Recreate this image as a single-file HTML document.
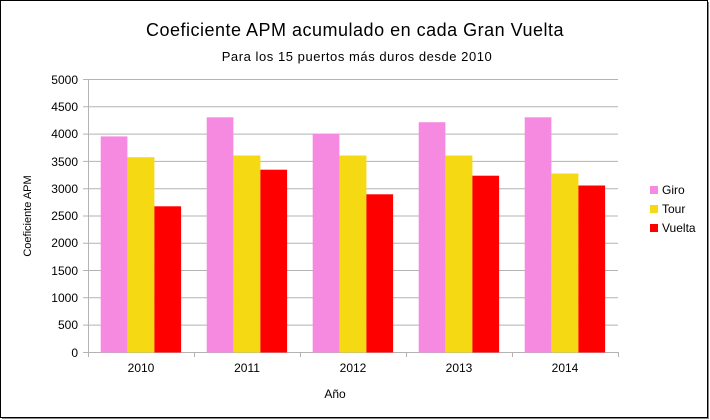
<!DOCTYPE html>
<html><head><meta charset="utf-8"><style>html,body{margin:0;padding:0;background:#fff}svg{display:block}</style></head><body>
<svg width="710" height="420" xmlns="http://www.w3.org/2000/svg" font-family="Liberation Sans, sans-serif">
<rect x="0" y="0" width="710" height="420" fill="#fff"/>
<rect x="0.5" y="0.5" width="707" height="417" fill="none" stroke="#000"/>
<line x1="708.5" y1="2" x2="708.5" y2="419" stroke="#888"/>
<line x1="2" y1="418.5" x2="709" y2="418.5" stroke="#888"/>
<text x="355" y="36" text-anchor="middle" font-size="18" letter-spacing="0.5" fill="#000">Coeficiente APM acumulado en cada Gran Vuelta</text>
<text x="357" y="61" text-anchor="middle" font-size="13" letter-spacing="0.55" fill="#000">Para los 15 puertos más duros desde 2010</text>
<g stroke="#b3b3b3" stroke-width="1">
<line x1="83" y1="79.5" x2="618" y2="79.5"/><line x1="83" y1="106.8" x2="618" y2="106.8"/>
<line x1="83" y1="134.1" x2="618" y2="134.1"/><line x1="83" y1="161.4" x2="618" y2="161.4"/>
<line x1="83" y1="188.7" x2="618" y2="188.7"/><line x1="83" y1="216" x2="618" y2="216"/>
<line x1="83" y1="243.2" x2="618" y2="243.2"/><line x1="83" y1="270.5" x2="618" y2="270.5"/>
<line x1="83" y1="297.8" x2="618" y2="297.8"/><line x1="83" y1="325.1" x2="618" y2="325.1"/>
<line x1="83" y1="352.5" x2="618" y2="352.5"/>
<line x1="88.5" y1="79" x2="88.5" y2="357"/>
<line x1="194.5" y1="352" x2="194.5" y2="357"/><line x1="300.5" y1="352" x2="300.5" y2="357"/>
<line x1="406.5" y1="352" x2="406.5" y2="357"/><line x1="512.5" y1="352" x2="512.5" y2="357"/>
<line x1="618.5" y1="352" x2="618.5" y2="357"/>
</g>
<g font-size="12" fill="#000" text-anchor="end">
<text x="78" y="84">5000</text><text x="78" y="111">4500</text><text x="78" y="138">4000</text>
<text x="78" y="166">3500</text><text x="78" y="193">3000</text><text x="78" y="220">2500</text>
<text x="78" y="247">2000</text><text x="78" y="275">1500</text><text x="78" y="302">1000</text>
<text x="78" y="329">500</text><text x="78" y="357">0</text>
</g>
<g font-size="12" fill="#000" text-anchor="middle">
<text x="141" y="372">2010</text><text x="247" y="372">2011</text><text x="353" y="372">2012</text>
<text x="459" y="372">2013</text><text x="565" y="372">2014</text>
<text x="335" y="398">Año</text>
</g>
<text transform="translate(31,216) rotate(-90)" text-anchor="middle" font-size="11" fill="#000">Coeficiente APM</text>
<g>
<rect x="100.7" y="136.4" width="26.7" height="216.1" fill="#f58ae0"/>
<rect x="127.4" y="157.2" width="27" height="195.3" fill="#f5d913"/>
<rect x="154.4" y="206.3" width="26.7" height="146.2" fill="#ff0000"/>
<rect x="206.7" y="117.3" width="26.7" height="235.2" fill="#f58ae0"/>
<rect x="233.4" y="155.5" width="27" height="197" fill="#f5d913"/>
<rect x="260.4" y="169.7" width="26.7" height="182.8" fill="#ff0000"/>
<rect x="312.7" y="133.7" width="26.7" height="218.8" fill="#f58ae0"/>
<rect x="339.4" y="155.5" width="27" height="197" fill="#f5d913"/>
<rect x="366.4" y="194.3" width="26.7" height="158.2" fill="#ff0000"/>
<rect x="418.7" y="122.2" width="26.7" height="230.3" fill="#f58ae0"/>
<rect x="445.4" y="155.5" width="27" height="197" fill="#f5d913"/>
<rect x="472.4" y="175.7" width="26.7" height="176.8" fill="#ff0000"/>
<rect x="524.7" y="117.3" width="26.7" height="235.2" fill="#f58ae0"/>
<rect x="551.4" y="173.5" width="27" height="179" fill="#f5d913"/>
<rect x="578.4" y="185.5" width="26.7" height="167" fill="#ff0000"/>
</g>
<g font-size="12" fill="#000">
<rect x="650" y="186" width="8" height="8" fill="#f58ae0"/><text x="662" y="194">Giro</text>
<rect x="650" y="205" width="8" height="8" fill="#f5d913"/><text x="662" y="213">Tour</text>
<rect x="650" y="224" width="8" height="8" fill="#ff0000"/><text x="662" y="232">Vuelta</text>
</g>
</svg>
</body></html>
